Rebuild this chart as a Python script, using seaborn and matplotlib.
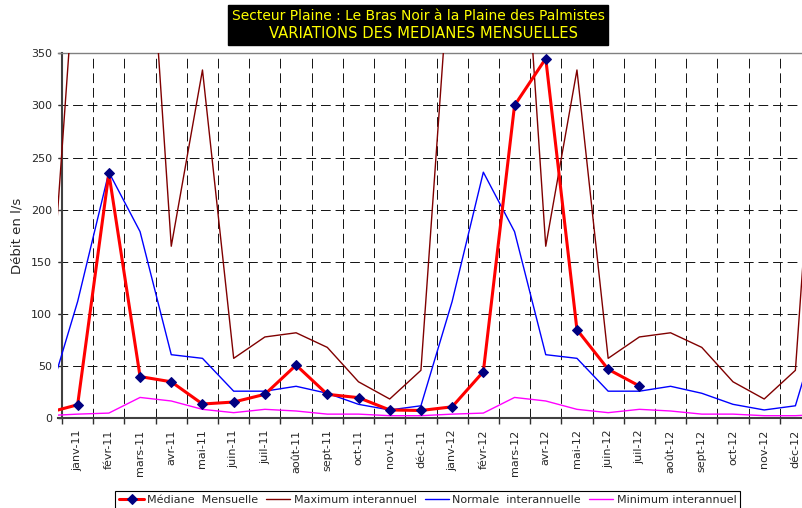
import matplotlib
matplotlib.use("Agg")
import numpy as np
import pandas as pd
import seaborn as sns
import matplotlib.pyplot as plt
from matplotlib.patches import Rectangle

# mois affichés (+ déc-10 et janv-13 qui sortent du cadre)
mois = ["déc-10",
        "janv-11", "févr-11", "mars-11", "avr-11", "mai-11", "juin-11",
        "juil-11", "août-11", "sept-11", "oct-11", "nov-11", "déc-11",
        "janv-12", "févr-12", "mars-12", "avr-12", "mai-12", "juin-12",
        "juil-12", "août-12", "sept-12", "oct-12", "nov-12", "déc-12",
        "janv-13"]

mediane = [5, 13, 235, 40, 35, 13.7, 15.6, 23, 51, 23, 19.8, 8, 7.5,
           11, 44.7, 300, 345, 85, 47, 31]

maximum = [46, 470, 520, 615, 165, 334, 57.5, 78, 82, 68, 35, 18.5, 46,
           470, 520, 615, 165, 334, 57.5, 78, 82, 68, 35, 18.5, 46, 470]

normale = [12, 112, 236, 179, 61, 57.5, 26, 26, 30.7, 24, 13.4, 8, 12,
           112, 236, 179, 61, 57.5, 26, 26, 30.7, 24, 13.4, 8, 12, 112]

minimum = [2.5, 4, 5, 20, 16.6, 8.6, 5.4, 8.6, 7, 4, 4, 2.5, 2.5,
           4, 5, 20, 16.6, 8.6, 5.4, 8.6, 7, 4, 4, 2.5, 2.5, 4]

sns.set_style("white")
plt.rcParams["font.family"] = ["DejaVu Sans"]

df = pd.DataFrame({"pos": np.arange(len(mois)) - 1, "mois": mois,
                   "maximum": maximum, "normale": normale, "minimum": minimum})
df_med = pd.DataFrame({"pos": np.arange(len(mediane)) - 1, "mediane": mediane})

fig = plt.figure(figsize=(8.03, 5.08), dpi=100)
# zone de tracé un peu plus large que l'axe Y (comme dans Excel), coupée à droite
ax = fig.add_axes([58.3 / 803, (508 - 418.3) / 508, 752.7 / 803, 365 / 508])

sns.lineplot(data=df, x="pos", y="maximum", color="#800000", lw=1, ax=ax,
             label="Maximum interannuel", zorder=3)
sns.lineplot(data=df, x="pos", y="normale", color="#0000FF", lw=1, ax=ax,
             label="Normale  interannuelle", zorder=3)
sns.lineplot(data=df, x="pos", y="minimum", color="#FF00FF", lw=1, ax=ax,
             label="Minimum interannuel", zorder=3)
sns.lineplot(data=df_med, x="pos", y="mediane", color="#FF0000", lw=2.2, ax=ax,
             marker="D", markersize=5, markerfacecolor="#000080",
             markeredgecolor="#000080", label="Médiane  Mensuelle", zorder=5)
ax.get_legend().remove()

ax.set_xlim(-0.62, 23.5)
ax.set_ylim(0, 350)
ax.spines["left"].set_position(("data", -0.5))
ax.set_yticks(np.arange(0, 351, 50))
ax.set_xticks(np.arange(-0.5, 24, 1))
ax.set_xticks(np.arange(0, 24), minor=True)
ax.set_xticklabels([], minor=False)
ax.set_xticklabels(mois[1:25], minor=True)
ax.tick_params(axis="x", which="major", direction="out", length=4, width=1,
               color="#303030", bottom=True)
ax.tick_params(axis="x", which="minor", length=0, pad=8, labelsize=8,
               labelrotation=90)
ax.tick_params(axis="y", direction="out", length=3, width=1, color="#303030",
               pad=4, labelsize=8, left=True)

dash = (0, (10, 5))
ax.grid(axis="x", which="major", color="#111111", lw=0.7, ls=dash)
ax.grid(axis="y", which="major", color="#111111", lw=0.7, ls=dash)
ygrid = ax.yaxis.get_gridlines()
ygrid[0].set_visible(False)
ygrid[-1].set_visible(False)
ax.xaxis.get_gridlines()[0].set_visible(False)
ax.set_axisbelow(True)

ax.spines["right"].set_visible(False)
ax.spines["top"].set_color("#808080")
ax.spines["top"].set_linewidth(1)
for s in ["left", "bottom"]:
    ax.spines[s].set_color("#404040")
    ax.spines[s].set_linewidth(1.5)

ax.set_xlabel("")
ax.set_ylabel("Débit en l/s", fontsize=9.5)
ax.yaxis.set_label_coords(-0.0456, 0.5)

# titre dans un cadre noir
fig.patches.append(Rectangle((228 / 803, 1 - 45 / 508), 380 / 803, 40 / 508,
                             transform=fig.transFigure, color="black", zorder=0))
fig.text(418 / 803, 1 - 15.5 / 508,
         "Secteur Plaine : Le Bras Noir à la Plaine des Palmistes",
         ha="center", va="center", color="#FFFF00", fontsize=10)
fig.text(424 / 803, 1 - 33.3 / 508, "VARIATIONS DES MEDIANES MENSUELLES",
         ha="center", va="center", color="#FFFF00", fontsize=10.6)

handles, labels = ax.get_legend_handles_labels()
order = [3, 0, 1, 2]
leg = fig.legend([handles[i] for i in order], [labels[i] for i in order],
                 loc="upper center", bbox_to_anchor=(427.8 / 803, 1 - 491 / 508),
                 ncol=4, fontsize=8, frameon=True, fancybox=False,
                 edgecolor="black", framealpha=1, handlelength=2.2,
                 handletextpad=0.3, columnspacing=0.7, borderpad=0.35,
                 borderaxespad=0)
leg.get_frame().set_linewidth(0.8)

fig.savefig("out.png", dpi=100)
